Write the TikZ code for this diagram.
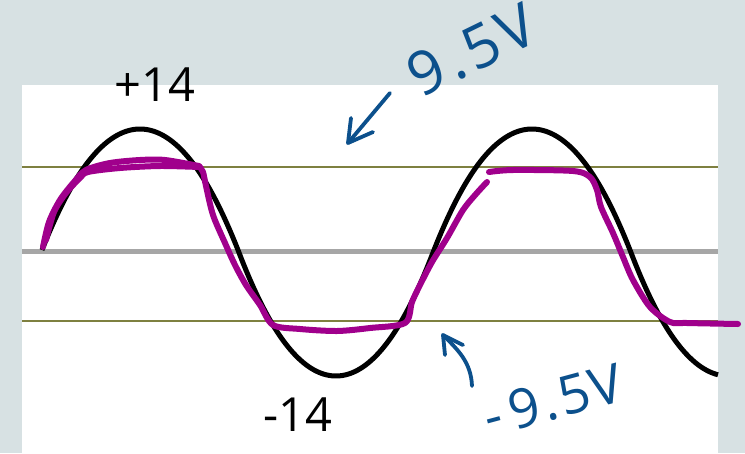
\documentclass[tikz,border=0pt]{standalone}
\usepackage{fontspec}
\setmainfont{Open Sans}
\definecolor{bgc}{HTML}{D7E1E3}
\definecolor{olivec}{HTML}{7E8040}
\definecolor{grayc}{HTML}{A6A6A6}
\definecolor{magc}{HTML}{A0008C}
\definecolor{penc}{HTML}{0C508C}
\begin{document}
\begin{tikzpicture}[x=1pt,y=-1pt,
  declare function={ss(\t)=sin((\t-42)*0.918367);
                     wv(\t)=(ss(\t)>=0 ? 121 : 126)*1.3*ss(\t)/(1+0.3*abs(ss(\t)));},
  wave/.style={line width=5pt,black,line join=round},
  clip/.style={line width=6pt,magc,line cap=round,line join=round},
  ref/.style={line width=2pt,olivec},
  axisline/.style={line width=5pt,grayc},
  pen/.style={line width=3.8pt,penc,line cap=round,line join=round},
  num/.style={inner sep=0pt,font=\fontsize{47}{50}\selectfont},
  hand/.style={inner sep=0pt,text=penc}]
\useasboundingbox (0,0) rectangle (745,453);
\fill[bgc] (0,0) rectangle (745,453);
\fill[white] (22,85) rectangle (718,453);
% reference lines
\coordinate (ul) at (22,167); \coordinate (ur) at (718,167);
\coordinate (ml) at (22,251); \coordinate (mr) at (718,251);
\coordinate (ll) at (22,321); \coordinate (lr) at (718,321);
\draw[axisline] (ml) -- (mr);
\draw[ref] (ul) -- (ur);
\draw[ref] (ll) -- (lr);
% sine
\draw[wave] plot[domain=42:718,samples=260,smooth] (\x,{250-wv(\x)});
% clipped curve
\draw[clip] plot[smooth,tension=0.5] coordinates {(43,247) (49,222) (60,200) (74,182) (86,170) (110,163) (140,160) (165,160) (199,166)};
\draw[clip] plot[smooth,tension=0.5] coordinates {(46,240) (54,212) (66,193) (80,178) (88,172) (120,168) (160,166) (199,167)};
\draw[clip] plot[smooth,tension=0.5] coordinates {(199,166) (203,172) (206,186) (213,215) (225,243) (235,265) (246,285) (260,305) (273,325) (300,329) (337,331) (370,328) (405,323) (412,302) (420,285) (432,262) (447,238) (463,210) (476,194) (487,182)};
\draw[clip] plot[smooth,tension=0.5] coordinates {(489,172) (513,170) (573,171) (590,177) (597,190) (601,207) (613,233) (623,257) (633,280) (650,307) (670,322) (687,323) (738,324)};
% labels
\node[num] (top) at (155,85) {+14};
\node[num] (bot) at (298,415) {-14};
% handwritten notes
\node[hand,rotate=26,font=\fontsize{60}{62}\selectfont] (up) at (472,50) {9\kern5pt.\kern5pt5\kern4pt V};
\node[hand,rotate=15,font=\fontsize{54}{56}\selectfont] (dn) at (553,400) {-\kern9pt9\kern3pt.\kern3pt5\kern2pt V};
\coordinate (a1s) at (390,93); \coordinate (a1t) at (348,143);
\coordinate (a1b) at (351,118); \coordinate (a1c) at (373,132);
\draw[pen] (a1s) -- (a1t);
\draw[pen] (a1b) -- (a1t) -- (a1c);
\coordinate (a2s) at (472,386); \coordinate (a2t) at (443,335);
\coordinate (a2b) at (445,355); \coordinate (a2c) at (463,345);
\draw[pen] (a2s) .. controls (471,362) and (458,350) .. (a2t);
\draw[pen] (a2b) -- (a2t) -- (a2c);
\end{tikzpicture}
\end{document}
